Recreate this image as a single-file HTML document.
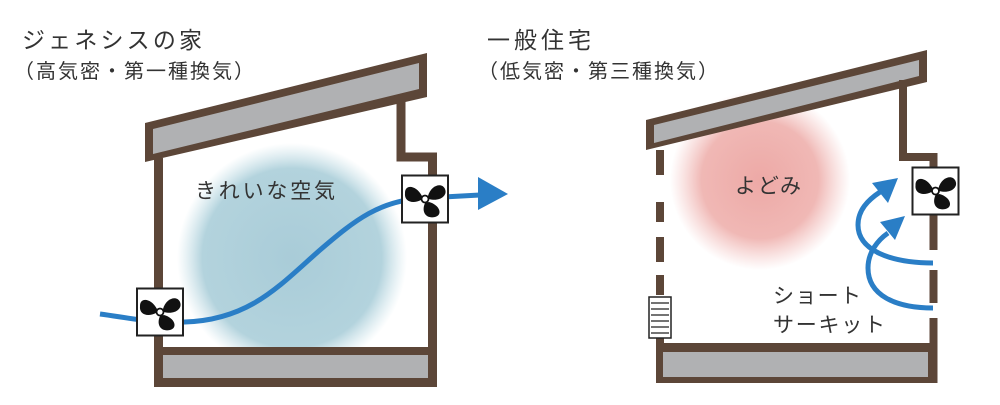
<!DOCTYPE html>
<html><head><meta charset="utf-8"><style>
html,body{margin:0;padding:0;background:#fff;}
svg{display:block;font-family:"Liberation Sans","Noto Sans CJK JP",sans-serif;}
</style></head><body>
<svg width="1000" height="405" viewBox="0 0 1000 405" xmlns="http://www.w3.org/2000/svg">
<defs>
<radialGradient id="gb"><stop offset="0" stop-color="#a9ccd8"/><stop offset="0.78" stop-color="#b3d3dd"/><stop offset="1" stop-color="#c5dfe7" stop-opacity="0"/></radialGradient>
<radialGradient id="gp"><stop offset="0" stop-color="#eda9a6"/><stop offset="0.65" stop-color="#f0b8b5"/><stop offset="1" stop-color="#f3c4c2" stop-opacity="0"/></radialGradient>
<g id="fan">
<rect x="-23" y="-23.5" width="46" height="47" fill="#fff" stroke="#222" stroke-width="2"/>
<g fill="#111">
<path d="M-3,-3 C-9,-14 -20,-15 -20,-6 C-21,3 -12,5 -4,1 Z"/>
<path d="M3,-3 C6,-14 17,-17 20,-10 C23,-3 14,3 4,0 Z"/>
<path d="M0,4 C-4,13 1,20 10,18 C18,16 15,6 4,3 Z"/>
</g>
<circle cx="0" cy="0" r="3.5" fill="#fff" stroke="#111" stroke-width="1.8"/>
</g>
</defs>

<text x="22" y="48" font-size="23" fill="#333" textLength="180">ジェネシスの家</text>
<text x="14" y="78" font-size="20" fill="#333" textLength="240">（高気密・第一種換気）</text>
<text x="487" y="48" font-size="23" fill="#333" textLength="104">一般住宅</text>
<text x="478" y="78" font-size="20" fill="#333" textLength="240">（低気密・第三種換気）</text>

<!-- House 1 -->
<circle cx="292" cy="258" r="115" fill="url(#gb)"/>
<polygon points="145,123 427,53 427,97 145,162" fill="#5c4638"/>
<polygon points="153,129 419,63 419,89 153,154" fill="#b0b1b3"/>
<path d="M158.5,158 V382.5 H432.5 V157 H401 V95" fill="none" stroke="#5c4638" stroke-width="9"/>
<rect x="158" y="347" width="275" height="40" fill="#5c4638"/>
<rect x="163" y="355" width="265" height="23" fill="#b0b1b3"/>
<text x="195" y="198" font-size="21" fill="#333" textLength="140">きれいな空気</text>
<path d="M100,314 C130,318 150,323 185,322 C250,320 280,285 320,250 C355,220 380,200 425,198 L480,195" fill="none" stroke="#2a7ec6" stroke-width="5"/>
<polygon points="478,177 508,194 478,210" fill="#2a7ec6"/>
<use href="#fan" x="425" y="199"/>
<use href="#fan" x="160" y="312"/>

<!-- House 2 -->
<circle cx="760" cy="180" r="90" fill="url(#gp)"/>
<polygon points="646,120 927,50 927,82 646,150" fill="#5c4638"/>
<polygon points="654,125 919,60 919,76 654,143" fill="#b0b1b3"/>
<path d="M903,80 V157 H933.5 V168" fill="none" stroke="#5c4638" stroke-width="8"/>
<g stroke="#5c4638" stroke-width="8" fill="none">
<line x1="660" y1="150" x2="660" y2="175"/>
<line x1="660" y1="202" x2="660" y2="222"/>
<line x1="660" y1="237" x2="660" y2="262"/>
<line x1="660" y1="275" x2="660" y2="295"/>
<line x1="660" y1="338" x2="660" y2="383"/>
<line x1="933.5" y1="214" x2="933.5" y2="250"/>
<line x1="933.5" y1="270" x2="933.5" y2="303"/>
<line x1="933.5" y1="318" x2="933.5" y2="383"/>
</g>
<rect x="656" y="343" width="281" height="40" fill="#5c4638"/>
<rect x="663" y="352" width="265" height="25" fill="#b0b1b3"/>
<rect x="649" y="297" width="22" height="41" fill="#fff" stroke="#222" stroke-width="1.5"/>
<g stroke="#222" stroke-width="1.3">
<line x1="651" y1="303" x2="669" y2="303"/><line x1="651" y1="309" x2="669" y2="309"/>
<line x1="651" y1="315" x2="669" y2="315"/><line x1="651" y1="321" x2="669" y2="321"/>
<line x1="651" y1="327" x2="669" y2="327"/><line x1="651" y1="333" x2="669" y2="333"/>
</g>
<use href="#fan" x="935.5" y="191"/>
<text x="735" y="193" font-size="21" fill="#333" textLength="66">よどみ</text>
<path d="M933,263 C890,263 858,250 858,225 C858,210 868,200 880,192" fill="none" stroke="#2a7ec6" stroke-width="5"/>
<polygon points="898,178 872,183 888,203" fill="#2a7ec6"/>
<path d="M933,308 C895,308 868,295 868,268 C868,252 878,240 888,233" fill="none" stroke="#2a7ec6" stroke-width="5"/>
<polygon points="905,216 880,222 895,240" fill="#2a7ec6"/>
<text x="773" y="303" font-size="21" fill="#333" textLength="88">ショート</text>
<text x="773" y="332" font-size="21" fill="#333" textLength="112">サーキット</text>
</svg>
</body></html>
